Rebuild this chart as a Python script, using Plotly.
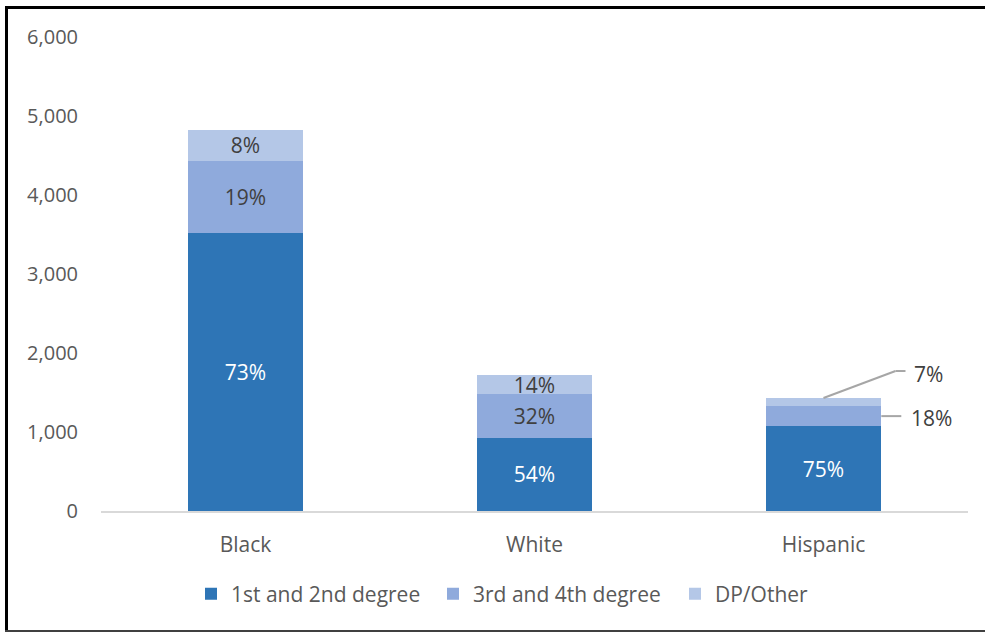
import plotly.graph_objects as go

categories = ["Black", "White", "Hispanic"]
series_names = ["1st and 2nd degree", "3rd and 4th degree", "DP/Other"]
deg12 = [3520, 930, 1072]
deg34 = [915, 550, 258]
dp_other = [385, 240, 100]
pct12 = ["73%", "54%", "75%"]
pct34 = ["19%", "32%", "18%"]
pct_dp = ["8%", "14%", "7%"]
y_ticks = [0, 1000, 2000, 3000, 4000, 5000, 6000]

colors = ["#2E75B6", "#8FAADC", "#B4C7E7"]
FONT = "Open Sans"

W, H = 985, 632
L, R, T, B = 101, 17, 37, 121
pw, ph = W - L - R, H - T - B

def px_to_paper(x, y):
    return (x - L) / pw, (H - B - y) / ph

# Hispanic's small segments are labelled outside the bar
inside34 = [p if c != "Hispanic" else "" for p, c in zip(pct34, categories)]
inside_dp = [p if c != "Hispanic" else "" for p, c in zip(pct_dp, categories)]

fig = go.Figure()
for vals, name, col, txt, tcol in [
    (deg12, series_names[0], colors[0], pct12, "white"),
    (deg34, series_names[1], colors[1], inside34, "#404040"),
    (dp_other, series_names[2], colors[2], inside_dp, "#404040"),
]:
    fig.add_trace(go.Bar(
        x=categories, y=vals, name=name, marker_color=col,
        marker_line_width=0,
        text=txt, textposition="inside", insidetextanchor="middle",
        constraintext="none", cliponaxis=False,
        textfont=dict(family=FONT, size=21, color=tcol),
        hoverinfo="skip",
    ))

hi = categories.index("Hispanic")
top_h = deg12[hi] + deg34[hi] + dp_other[hi]
mid34_h = deg12[hi] + deg34[hi] / 2
half_w = 0.2
line_style = dict(color="#A6A6A6", width=2)

shapes = [
    dict(type="line", xref="x", yref="y", xsizemode="pixel", ysizemode="pixel",
         xanchor=hi, yanchor=top_h, x0=0, y0=0, x1=72, y1=27, line=line_style),
    dict(type="line", xref="x", yref="y", xsizemode="pixel", ysizemode="pixel",
         xanchor=hi, yanchor=top_h, x0=72, y0=27, x1=82, y1=27, line=line_style),
    dict(type="line", xref="x", yref="y", xsizemode="pixel", ysizemode="pixel",
         xanchor=hi + half_w, yanchor=mid34_h, x0=0, y0=0, x1=20, y1=0, line=line_style),
]

# outer frame (left, top, bottom edges only)
lx, ty = px_to_paper(6.5, 7.5)
rx, by = px_to_paper(985, 631)
lx2, _ = px_to_paper(5, 0)
shapes += [
    dict(type="line", xref="paper", yref="paper", x0=lx, x1=lx, y0=ty, y1=by,
         line=dict(color="black", width=3)),
    dict(type="line", xref="paper", yref="paper", x0=lx2, x1=rx, y0=ty, y1=ty,
         line=dict(color="black", width=3)),
    dict(type="line", xref="paper", yref="paper", x0=lx2, x1=rx, y0=by, y1=by,
         line=dict(color="#404040", width=2)),
]

annotations = [
    dict(x=hi, y=top_h, xref="x", yref="y", text=pct_dp[hi], showarrow=False,
         xanchor="left", yanchor="middle", xshift=88, yshift=24,
         font=dict(family=FONT, size=21, color="#404040")),
    dict(x=hi + half_w, y=mid34_h, xref="x", yref="y", text=pct34[hi], showarrow=False,
         xanchor="left", yanchor="middle", xshift=28, yshift=-2,
         font=dict(family=FONT, size=21, color="#404040")),
]

leg_y = px_to_paper(0, 594)[1]
leg_x = px_to_paper(191, 0)[0]

fig.update_layout(
    width=W, height=H,
    margin=dict(l=L, r=R, t=T, b=B),
    barmode="stack", bargap=0.6,
    plot_bgcolor="white", paper_bgcolor="white",
    font=dict(family=FONT, size=20, color="#595959"),
    showlegend=True,
    legend=dict(orientation="h", x=leg_x, xanchor="left", y=leg_y, yanchor="middle",
                font=dict(family=FONT, size=21, color="#595959"),
                traceorder="normal", itemwidth=30, entrywidth=197,
                entrywidthmode="pixels"),
    xaxis=dict(showgrid=False, showline=True, linecolor="#D9D9D9", linewidth=2,
               ticks="", ticklabelstandoff=14, tickfont=dict(size=21, color="#595959")),
    yaxis=dict(range=[0, 6000], tickvals=y_ticks, tickformat=",", showgrid=False,
               zeroline=False, showline=False, ticks="", ticklabelstandoff=22,
               tickfont=dict(size=20, color="#595959")),
    shapes=shapes,
    annotations=annotations,
)

fig.write_html("out.html", config={"displayModeBar": False},
               post_script="document.body.style.margin='0';document.body.style.overflow='hidden';")
